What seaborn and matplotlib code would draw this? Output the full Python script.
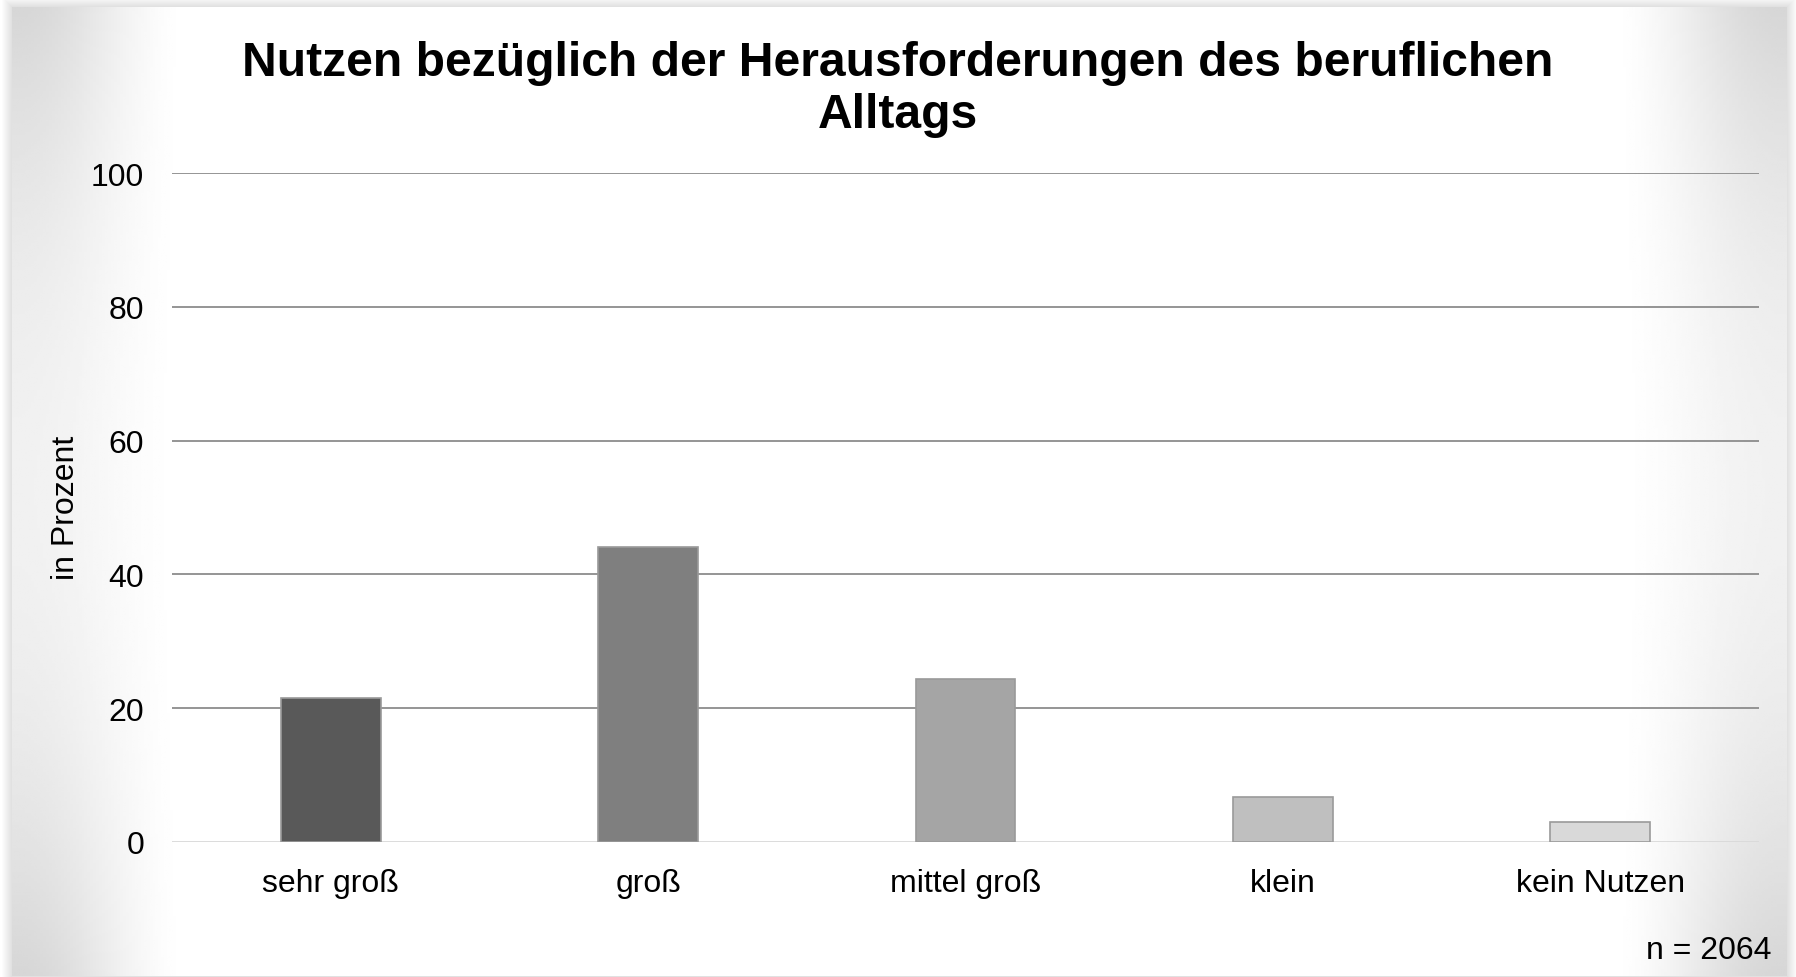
import numpy as np
import matplotlib
matplotlib.use("Agg")
import matplotlib.pyplot as plt
import seaborn as sns
from matplotlib.patches import Rectangle

# ---- data ----
categories = ["sehr groß", "groß", "mittel groß", "klein", "kein Nutzen"]
values = [21.5, 44.1, 24.3, 6.7, 3.0]
bar_colors = ["#595959", "#7f7f7f", "#a5a5a5", "#bfbfbf", "#d9d9d9"]
y_ticks = [0, 20, 40, 60, 80, 100]
title = "Nutzen bezüglich der Herausforderungen des beruflichen\nAlltags"
y_label = "in Prozent"
note = "n = 2064"

sns.set_theme(style="white")
plt.rcParams["font.family"] = ["Liberation Sans", "DejaVu Sans"]

W, H = 1796, 978
fig = plt.figure(figsize=(W / 100, H / 100), dpi=100)
fig.patch.set_facecolor("white")

# ---- background card with soft shadow and corner gradient ----
bg = fig.add_axes([0, 0, 1, 1], zorder=0)
bg.set_xlim(0, W)
bg.set_ylim(H, 0)
bg.axis("off")
cx0, cy0, cx1, cy1 = 12, 8, 1787, 977
for i in range(10, 0, -1):
    bg.add_patch(Rectangle((cx0 - i, cy0 - i), (cx1 - cx0) + 2 * i, (cy1 - cy0) + 2 * i,
                           facecolor="#000000", edgecolor="none", alpha=0.012))
xs = np.linspace(-1, 1, 600)
ys = np.linspace(-1, 1, 330)
DX, DY = np.meshgrid(xs, ys)
t = np.clip((np.abs(DX) - 0.80) / (0.995 - 0.80), 0, 1)
g = 3 * t ** 2 - 2 * t ** 3
f = g * (0.35 + 0.65 * DY ** 2)
img = 1 - 0.16 * f
bg.imshow(img, cmap="gray", vmin=0, vmax=1, extent=(cx0, cx1, cy1, cy0),
          aspect="auto", interpolation="bilinear", zorder=1)

# ---- main axes ----
ax = fig.add_axes([172 / W, 1 - 843 / H, (1759 - 172) / W, (843 - 174) / H], zorder=2)
ax.set_facecolor("none")
sns.barplot(x=categories, y=values, hue=categories, palette=bar_colors, legend=False,
            width=0.315, edgecolor="#9a9a9a", linewidth=1.2, ax=ax, zorder=3)
ax.set_ylim(0, 100)
ax.set_yticks(y_ticks)
ax.set_axisbelow(True)
for v in y_ticks:
    ax.axhline(v, color="#d9d9d9" if v == 0 else "#8c8c8c", linewidth=1.3, zorder=1)
for s in ax.spines.values():
    s.set_visible(False)
ax.tick_params(axis="y", length=0, pad=20, labelsize=23, labelcolor="black")
ax.tick_params(axis="x", length=0, pad=19, labelsize=23, labelcolor="black")
ax.set_xlabel("")
ax.set_ylabel("")

fig.text(66 / W, 1 - 508 / H, y_label, rotation=90, ha="center", va="center",
         fontsize=23, color="black")
fig.text(0.5, 1 - 89 / H, title, ha="center", va="center", fontsize=34.6,
         fontweight="bold", color="black", linespacing=1.2)
fig.text(1771 / W, 1 - 951 / H, note, ha="right", va="center", fontsize=23, color="black")

fig.savefig("out.png", dpi=100)
